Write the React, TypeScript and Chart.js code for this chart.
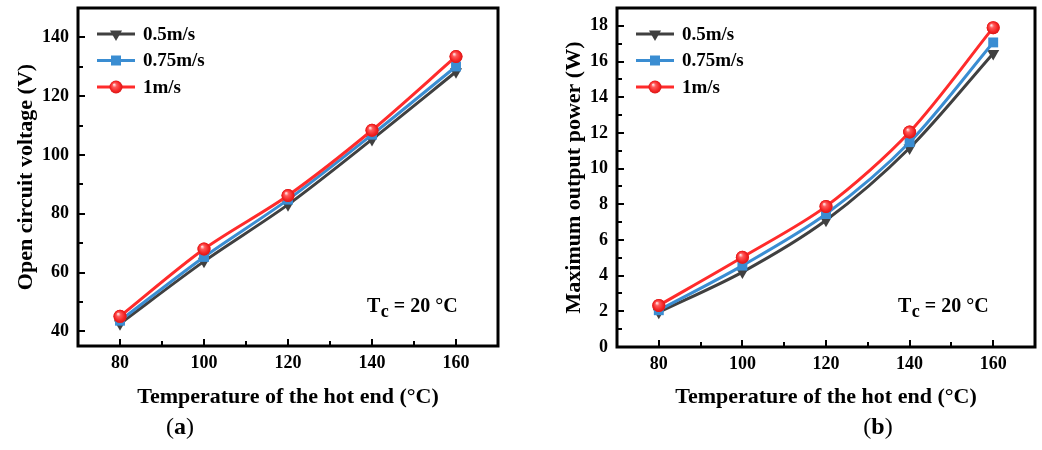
import React, { useEffect, useRef } from 'react';
import { Chart, registerables } from 'chart.js';
Chart.register(...registerables);

// ---------- data ----------
const temperatures = [80, 100, 120, 140, 160];
const xTickValues = [80, 100, 120, 140, 160];
const seriesNames = ['0.5m/s', '0.75m/s', '1m/s'];

const voltage05 = [42.6, 63.8, 83.1, 105.3, 128.3];
const voltage075 = [43.6, 65.3, 84.8, 106.9, 130.1];
const voltage1 = [45.1, 68.0, 86.2, 108.4, 133.5];
const voltageTicks = [40, 60, 80, 100, 120, 140];

const power05 = [1.95, 4.2, 7.1, 11.15, 16.45];
const power075 = [2.06, 4.56, 7.45, 11.48, 17.07];
const power1 = [2.33, 5.03, 7.88, 12.05, 17.9];
const powerTicks = [0, 2, 4, 6, 8, 10, 12, 14, 16, 18];

const xTitle = 'Temperature of the hot end (°C)';

// ---------- styles ----------
const COLORS = ['#404040', '#3a8dd2', '#ff2b2b'];
const FONT = '"Liberation Serif", "Times New Roman", serif';

function drawMarker(ctx: CanvasRenderingContext2D, i: number, x: number, y: number) {
  ctx.save();
  if (i === 0) {
    const r = 7;
    ctx.fillStyle = COLORS[0];
    ctx.beginPath();
    ctx.moveTo(x, y + r);
    ctx.lineTo(x - r * Math.sin(Math.PI / 3), y - r / 2);
    ctx.lineTo(x + r * Math.sin(Math.PI / 3), y - r / 2);
    ctx.closePath();
    ctx.fill();
  } else if (i === 1) {
    ctx.fillStyle = COLORS[1];
    ctx.fillRect(x - 5, y - 5, 10, 10);
  } else {
    drawSphere(ctx, x, y, 6.5);
  }
  ctx.restore();
}

function drawSphere(ctx: CanvasRenderingContext2D, x: number, y: number, r: number) {
  const g = ctx.createRadialGradient(x - 2, y - 2.5, 0.3, x, y, r);
  g.addColorStop(0, '#ffe6e6');
  g.addColorStop(0.3, '#ff5a5a');
  g.addColorStop(0.75, '#f42424');
  g.addColorStop(1, '#d81818');
  ctx.fillStyle = g;
  ctx.beginPath();
  ctx.arc(x, y, r, 0, Math.PI * 2);
  ctx.fill();
}

const decoPlugin = {
  id: 'deco',
  afterDraw(chart: any, _args: any, opts: any) {
    const ctx: CanvasRenderingContext2D = chart.ctx;
    const a = chart.chartArea;
    const xs = chart.scales.x;
    const ys = chart.scales.y;
    ctx.save();

    // sphere highlights on red points
    const meta = chart.getDatasetMeta(2);
    meta.data.forEach((p: any) => drawSphere(ctx, p.x, p.y, 6.5));

    // inward ticks
    ctx.strokeStyle = '#000';
    ctx.lineWidth = 2;
    for (let v = opts.xFrom; v <= opts.xTo + 1e-9; v += opts.xMinor) {
      const px = Math.round(xs.getPixelForValue(v));
      const major = Math.abs(((v - opts.xFrom) / opts.xMajor) - Math.round((v - opts.xFrom) / opts.xMajor)) < 1e-6;
      const len = major ? 7 : 5;
      ctx.beginPath();
      ctx.moveTo(px, a.bottom);
      ctx.lineTo(px, a.bottom - len);
      ctx.stroke();
    }
    for (let v = opts.yFrom; v <= opts.yTo + 1e-9; v += opts.yMinor) {
      const py = Math.round(ys.getPixelForValue(v));
      const major = Math.abs(((v - opts.yFrom) / opts.yMajor) - Math.round((v - opts.yFrom) / opts.yMajor)) < 1e-6;
      const len = major ? 7 : 5;
      ctx.beginPath();
      ctx.moveTo(a.left, py);
      ctx.lineTo(a.left + len, py);
      ctx.stroke();
    }

    // frame
    ctx.lineWidth = 3;
    ctx.strokeRect(a.left, a.top, a.right - a.left, a.bottom - a.top);

    // legend
    const rows = [26, 52.5, 79];
    for (let i = 0; i < 3; i++) {
      const y = a.top + rows[i];
      ctx.strokeStyle = COLORS[i];
      ctx.lineWidth = 3;
      ctx.beginPath();
      ctx.moveTo(a.left + 19, y);
      ctx.lineTo(a.left + 57, y);
      ctx.stroke();
      drawMarker(ctx, i, a.left + 38, y);
      ctx.fillStyle = '#000';
      ctx.font = `bold 19px ${FONT}`;
      ctx.textAlign = 'left';
      ctx.textBaseline = 'middle';
      ctx.fillText(seriesNames[i], a.left + 65, y + 1);
    }

    // Tc annotation
    ctx.fillStyle = '#000';
    ctx.textAlign = 'left';
    ctx.textBaseline = 'alphabetic';
    ctx.font = `bold 20px ${FONT}`;
    let tx = opts.tcX;
    const ty = opts.tcY;
    ctx.fillText('T', tx, ty);
    tx += ctx.measureText('T').width + 0.5;
    ctx.font = `bold 18px ${FONT}`;
    ctx.fillText('c', tx, ty + 5);
    tx += ctx.measureText('c').width;
    ctx.font = `bold 20px ${FONT}`;
    ctx.fillText(' = 20 °C', tx, ty);

    // x title
    ctx.font = `bold 22px ${FONT}`;
    ctx.textAlign = 'center';
    ctx.textBaseline = 'middle';
    ctx.fillText(xTitle, (a.left + a.right) / 2, 397);

    // y title
    ctx.save();
    ctx.translate(opts.yTitleX, (a.top + a.bottom) / 2);
    ctx.rotate(-Math.PI / 2);
    ctx.fillText(opts.yTitle, 0, 0);
    ctx.restore();

    // panel label
    const parts = [
      { t: '(', f: `24px ${FONT}` },
      { t: opts.label, f: `bold 24px ${FONT}` },
      { t: ')', f: `24px ${FONT}` },
    ];
    let total = 0;
    parts.forEach((p) => { ctx.font = p.f; total += ctx.measureText(p.t).width; });
    let lx = opts.labelX - total / 2;
    ctx.textAlign = 'left';
    ctx.textBaseline = 'alphabetic';
    parts.forEach((p) => { ctx.font = p.f; ctx.fillText(p.t, lx, 434); lx += ctx.measureText(p.t).width; });

    ctx.restore();
  },
};

type PanelProps = {
  left: number;
  width: number;
  yMin: number;
  yMax: number;
  yTicks: number[];
  yMinor: number;
  series: number[][];
  yTitle: string;
  yTitleX: number;
  label: string;
  labelX: number;
  tcX: number;
  yAxisWidth: number;
  xAxisHeight: number;
  padRight: number;
};

function Panel(p: PanelProps) {
  const ref = useRef<HTMLCanvasElement | null>(null);
  useEffect(() => {
    if (!ref.current) return;
    const tickFont = { family: FONT, weight: 'bold' as const, size: 18 };
    const datasets = p.series.map((vals, i) => ({
      label: seriesNames[i],
      data: temperatures.map((t, j) => ({ x: t, y: vals[j] })),
      borderColor: COLORS[i],
      backgroundColor: COLORS[i],
      borderWidth: 3,
      tension: 0.3,
      pointStyle: i === 0 ? 'triangle' : i === 1 ? 'rect' : 'circle',
      pointRotation: i === 0 ? 180 : 0,
      pointRadius: i === 0 ? 7 : i === 1 ? 7 : 6.5,
      pointBorderWidth: 0,
      pointBackgroundColor: COLORS[i],
      order: 3 - i,
    }));
    const chart = new Chart(ref.current, {
      type: 'line',
      data: { datasets },
      plugins: [decoPlugin],
      options: {
        responsive: false,
        maintainAspectRatio: false,
        animation: false,
        layout: { padding: { left: 0, top: 8, right: p.padRight, bottom: 0 } },
        plugins: {
          legend: { display: false },
          tooltip: { enabled: false },
          deco: {
            xFrom: 80, xTo: 160, xMinor: 10, xMajor: 20,
            yFrom: p.yTicks[0], yTo: p.yTicks[p.yTicks.length - 1], yMinor: p.yMinor,
            yMajor: p.yTicks[1] - p.yTicks[0],
            yTitle: p.yTitle, yTitleX: p.yTitleX,
            label: p.label, labelX: p.labelX,
            tcX: p.tcX, tcY: 312,
          },
        } as any,
        scales: {
          x: {
            type: 'linear',
            min: 70,
            max: 170,
            grid: { display: false, drawTicks: false },
            border: { display: false },
            afterBuildTicks: (s: any) => { s.ticks = xTickValues.map((v) => ({ value: v })); },
            afterFit: (s: any) => {
              s.height = p.xAxisHeight;
              s.paddingLeft = 0;
              s.paddingRight = 0;
            },
            ticks: { font: tickFont, color: '#000', padding: 7, maxRotation: 0, autoSkip: false },
          },
          y: {
            type: 'linear',
            min: p.yMin,
            max: p.yMax,
            grid: { display: false, drawTicks: false },
            border: { display: false },
            afterBuildTicks: (s: any) => { s.ticks = p.yTicks.map((v) => ({ value: v })); },
            afterFit: (s: any) => {
              s.width = p.yAxisWidth;
              s.paddingTop = 0;
              s.paddingBottom = 0;
            },
            ticks: { font: tickFont, color: '#000', padding: 9, autoSkip: false },
          },
        },
      },
    });
    return () => chart.destroy();
  }, []);
  return (
    <canvas
      ref={ref}
      width={p.width}
      height={450}
      style={{ position: 'absolute', left: p.left, top: 0, width: p.width, height: 450, display: 'block' }}
    />
  );
}

export default function App() {
  return (
    <div style={{ position: 'absolute', left: 0, top: 0, width: 1042, height: 450, background: '#fff', overflow: 'hidden' }}>
      <Panel
        left={0}
        width={520}
        yMin={35}
        yMax={150}
        yTicks={voltageTicks}
        yMinor={10}
        series={[voltage05, voltage075, voltage1]}
        yTitle="Open circuit voltage (V)"
        yTitleX={26}
        label="a"
        labelX={180}
        tcX={367}
        yAxisWidth={78}
        xAxisHeight={104}
        padRight={22}
      />
      <Panel
        left={520}
        width={522}
        yMin={0}
        yMax={19}
        yTicks={powerTicks}
        yMinor={1}
        series={[power05, power075, power1]}
        yTitle="Maximum output power (W)"
        yTitleX={54}
        label="b"
        labelX={358}
        tcX={378}
        yAxisWidth={97}
        xAxisHeight={103}
        padRight={5}
      />
    </div>
  );
}
